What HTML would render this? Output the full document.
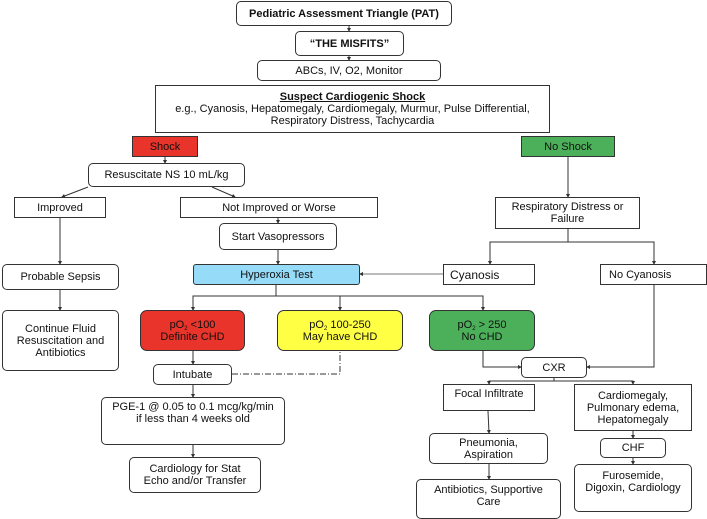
<!DOCTYPE html>
<html><head><style>
body{margin:0;width:707px;height:512px;background:#fff;position:relative;overflow:hidden;font-family:"Liberation Sans",Arial,sans-serif;font-size:11px;color:#111}
.b{position:absolute;box-sizing:border-box;border:1px solid #333;background:#fff;display:flex;flex-direction:column;align-items:center;justify-content:center;text-align:center;line-height:12px}
.r{border-radius:5px}
.t{justify-content:flex-start;padding-top:3px}
sub{font-size:6px;vertical-align:-2px;line-height:0}
svg{position:absolute;left:0;top:0}
</style></head><body>
<svg width="707" height="512">
<defs><marker id="a" markerWidth="4" markerHeight="4" refX="3" refY="2" orient="auto"><path d="M0,0L4,2L0,4z" fill="#333"/></marker></defs>
<g stroke="#333" stroke-width="1" fill="none" marker-end="url(#a)">
<path d="M349,25V31"/><path d="M349,56V60"/>
<path d="M165,157V163"/><path d="M568,157V197"/>
<path d="M88,187L62,197"/><path d="M212,187L235,197"/>
<path d="M60,217V264"/><path d="M60,290V310"/>
<path d="M278,217V223"/><path d="M278,250V264"/>
<path d="M443,274H360" stroke="#777"/>
<path d="M276,284V296H193V310"/><path d="M276,296H340V310"/><path d="M276,296H483V310"/>
<path d="M568,229V242H490V264"/><path d="M568,242H654V264"/>
<path d="M654,284V367H587"/><path d="M483,351V367H521"/>
<path d="M554,377V381H489V384"/><path d="M554,381H633V384"/>
<path d="M488,411L489,433"/><path d="M489,464V479"/>
<path d="M633,431V438"/><path d="M633,457V464"/>
<path d="M193,351V364"/><path d="M193,384V397"/><path d="M193,445V457"/>
</g>
<path d="M232,374H340V351" stroke="#333" fill="none" stroke-dasharray="6,2,1,2"/>
</svg>
<div class="b r" style="left:236px;top:1px;width:216px;height:25px;font-weight:bold">Pediatric Assessment Triangle (PAT)</div>
<div class="b r" style="left:295px;top:31px;width:109px;height:25px;font-weight:bold">“THE MISFITS”</div>
<div class="b r" style="left:257px;top:60px;width:184px;height:21px">ABCs, IV, O2, Monitor</div>
<div class="b" style="left:155px;top:85px;width:395px;height:48px"><b style="text-decoration:underline">Suspect Cardiogenic Shock</b>e.g., Cyanosis, Hepatomegaly, Cardiomegaly, Murmur, Pulse Differential,<br>Respiratory Distress, Tachycardia</div>
<div class="b" style="left:132px;top:136px;width:66px;height:21px;background:#e8342a">Shock</div>
<div class="b" style="left:521px;top:136px;width:94px;height:21px;background:#4caf5a">No Shock</div>
<div class="b r" style="left:88px;top:163px;width:157px;height:24px">Resuscitate NS 10 mL/kg</div>
<div class="b" style="left:14px;top:197px;width:92px;height:21px">Improved</div>
<div class="b" style="left:180px;top:197px;width:198px;height:21px">Not Improved or Worse</div>
<div class="b r" style="left:219px;top:223px;width:118px;height:27px">Start Vasopressors</div>
<div class="b r" style="left:193px;top:264px;width:167px;height:21px;background:#96dcf8;border-radius:3px">Hyperoxia Test</div>
<div class="b r" style="left:2px;top:264px;width:117px;height:26px">Probable Sepsis</div>
<div class="b r" style="left:2px;top:310px;width:117px;height:61px">Continue Fluid<br>Resuscitation and<br>Antibiotics</div>
<div class="b" style="left:495px;top:197px;width:145px;height:32px">Respiratory Distress or<br>Failure</div>
<div class="b" style="left:443px;top:264px;width:92px;height:21px;font-size:12px;align-items:flex-start;padding-left:6px">Cyanosis</div>
<div class="b" style="left:600px;top:264px;width:107px;height:21px;align-items:flex-start;padding-left:8px">No Cyanosis</div>
<div class="b r" style="left:140px;top:310px;width:105px;height:41px;background:#e8342a;border-radius:7px"><span>pO<sub>2</sub> &lt;100</span>Definite CHD</div>
<div class="b r" style="left:277px;top:310px;width:126px;height:41px;background:#ffff44;border-radius:7px"><span>pO<sub>2</sub> 100-250</span>May have CHD</div>
<div class="b r" style="left:429px;top:310px;width:106px;height:41px;background:#4caf5a;border-radius:7px"><span>pO<sub>2</sub> &gt; 250</span>No CHD</div>
<div class="b r" style="left:153px;top:364px;width:79px;height:21px">Intubate</div>
<div class="b r t" style="left:101px;top:397px;width:184px;height:48px">PGE-1 @ 0.05 to 0.1 mcg/kg/min<br>if less than 4 weeks old</div>
<div class="b r" style="left:129px;top:457px;width:132px;height:36px">Cardiology for Stat<br>Echo and/or Transfer</div>
<div class="b r" style="left:521px;top:357px;width:66px;height:21px">CXR</div>
<div class="b t" style="left:443px;top:384px;width:92px;height:27px">Focal Infiltrate</div>
<div class="b" style="left:574px;top:384px;width:118px;height:47px">Cardiomegaly,<br>Pulmonary edema,<br>Hepatomegaly</div>
<div class="b r" style="left:429px;top:433px;width:119px;height:31px">Pneumonia,<br>Aspiration</div>
<div class="b r" style="left:416px;top:479px;width:145px;height:40px;justify-content:flex-start;padding-top:4px">Antibiotics, Supportive<br>Care</div>
<div class="b r" style="left:600px;top:438px;width:66px;height:20px">CHF</div>
<div class="b r t" style="left:574px;top:464px;width:118px;height:48px;padding-top:5px">Furosemide,<br>Digoxin, Cardiology</div>
</body></html>
